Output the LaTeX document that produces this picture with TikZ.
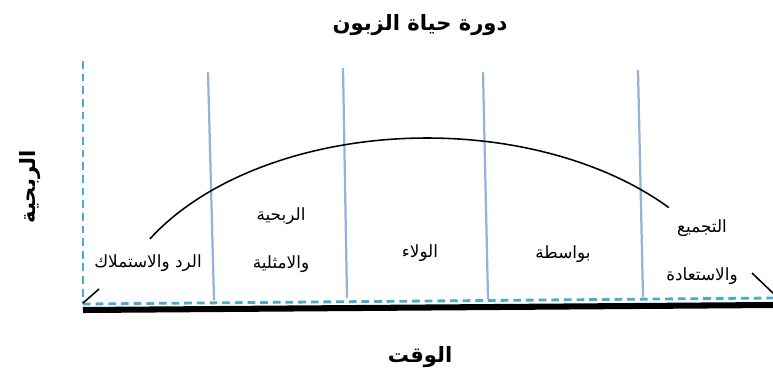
\documentclass[tikz,border=0pt]{standalone}
\usepackage{fontspec}
\usepackage{xcolor}
\usepackage{tikz}
\newfontfamily\arabicfont[Script=Arabic]{DejaVu Sans}
\TeXXeTstate=1
\definecolor{sepblue}{HTML}{95B3D7}
\definecolor{axisteal}{HTML}{4BACC6}

\begin{document}
\begin{tikzpicture}[x=0.025cm, y=-0.025cm,
  stage/.style={font=\arabicfont\fontsize{12}{14}\selectfont, align=center, inner sep=0pt},
  heading/.style={font=\arabicfont\bfseries\fontsize{15}{18}\selectfont, inner sep=0pt},
  divider/.style={sepblue, line width=1.6pt},
  guide/.style={axisteal, line width=2pt, dash pattern=on 5.5pt off 3.5pt}
]
  \useasboundingbox (0,0) rectangle (773,380);
  \draw[guide] (83,61) -- (83,304);
  \draw[guide] (83,304) -- (773,298);
  \draw[line width=4.3pt] (83,310) -- (773,305);
  \draw[divider] (208,72) -- (214,300);
  \draw[divider] (343,68) -- (347,298);
  \draw[divider] (483,72) -- (488,299);
  \draw[divider] (638,70) -- (643,297);
  \draw[line width=1.1pt] plot[domain=40.7:150.3, samples=60, smooth]
    ({427+319*cos(\x)}, {338-200*sin(\x)});
  \draw[line width=1.1pt] (83,303) -- (99,289);
  \draw[line width=1.1pt] (752,273) -- (776,296);
  \node[heading] (title) at (420,25) {\beginR دورة حياة الزبون\endR};
  \node[heading] (xlabel) at (420,357) {\beginR الوقت\endR};
  \node[heading, rotate=90] (ylabel) at (30,187) {\beginR الربحية\endR};
  \node[stage] (st1) at (148,263) {\beginR الرد والاستملاك\endR};
  \node[stage] (st2) at (281,240) {\beginR الربحية\endR\\[20pt]\beginR والامثلية\endR};
  \node[stage] (st3) at (420,253) {\beginR الولاء\endR};
  \node[stage] (st4) at (563,254) {\beginR بواسطة\endR};
  \node[stage] (st5) at (702,252) {\beginR التجميع\endR\\[20pt]\beginR والاستعادة\endR};
\end{tikzpicture}
\end{document}
